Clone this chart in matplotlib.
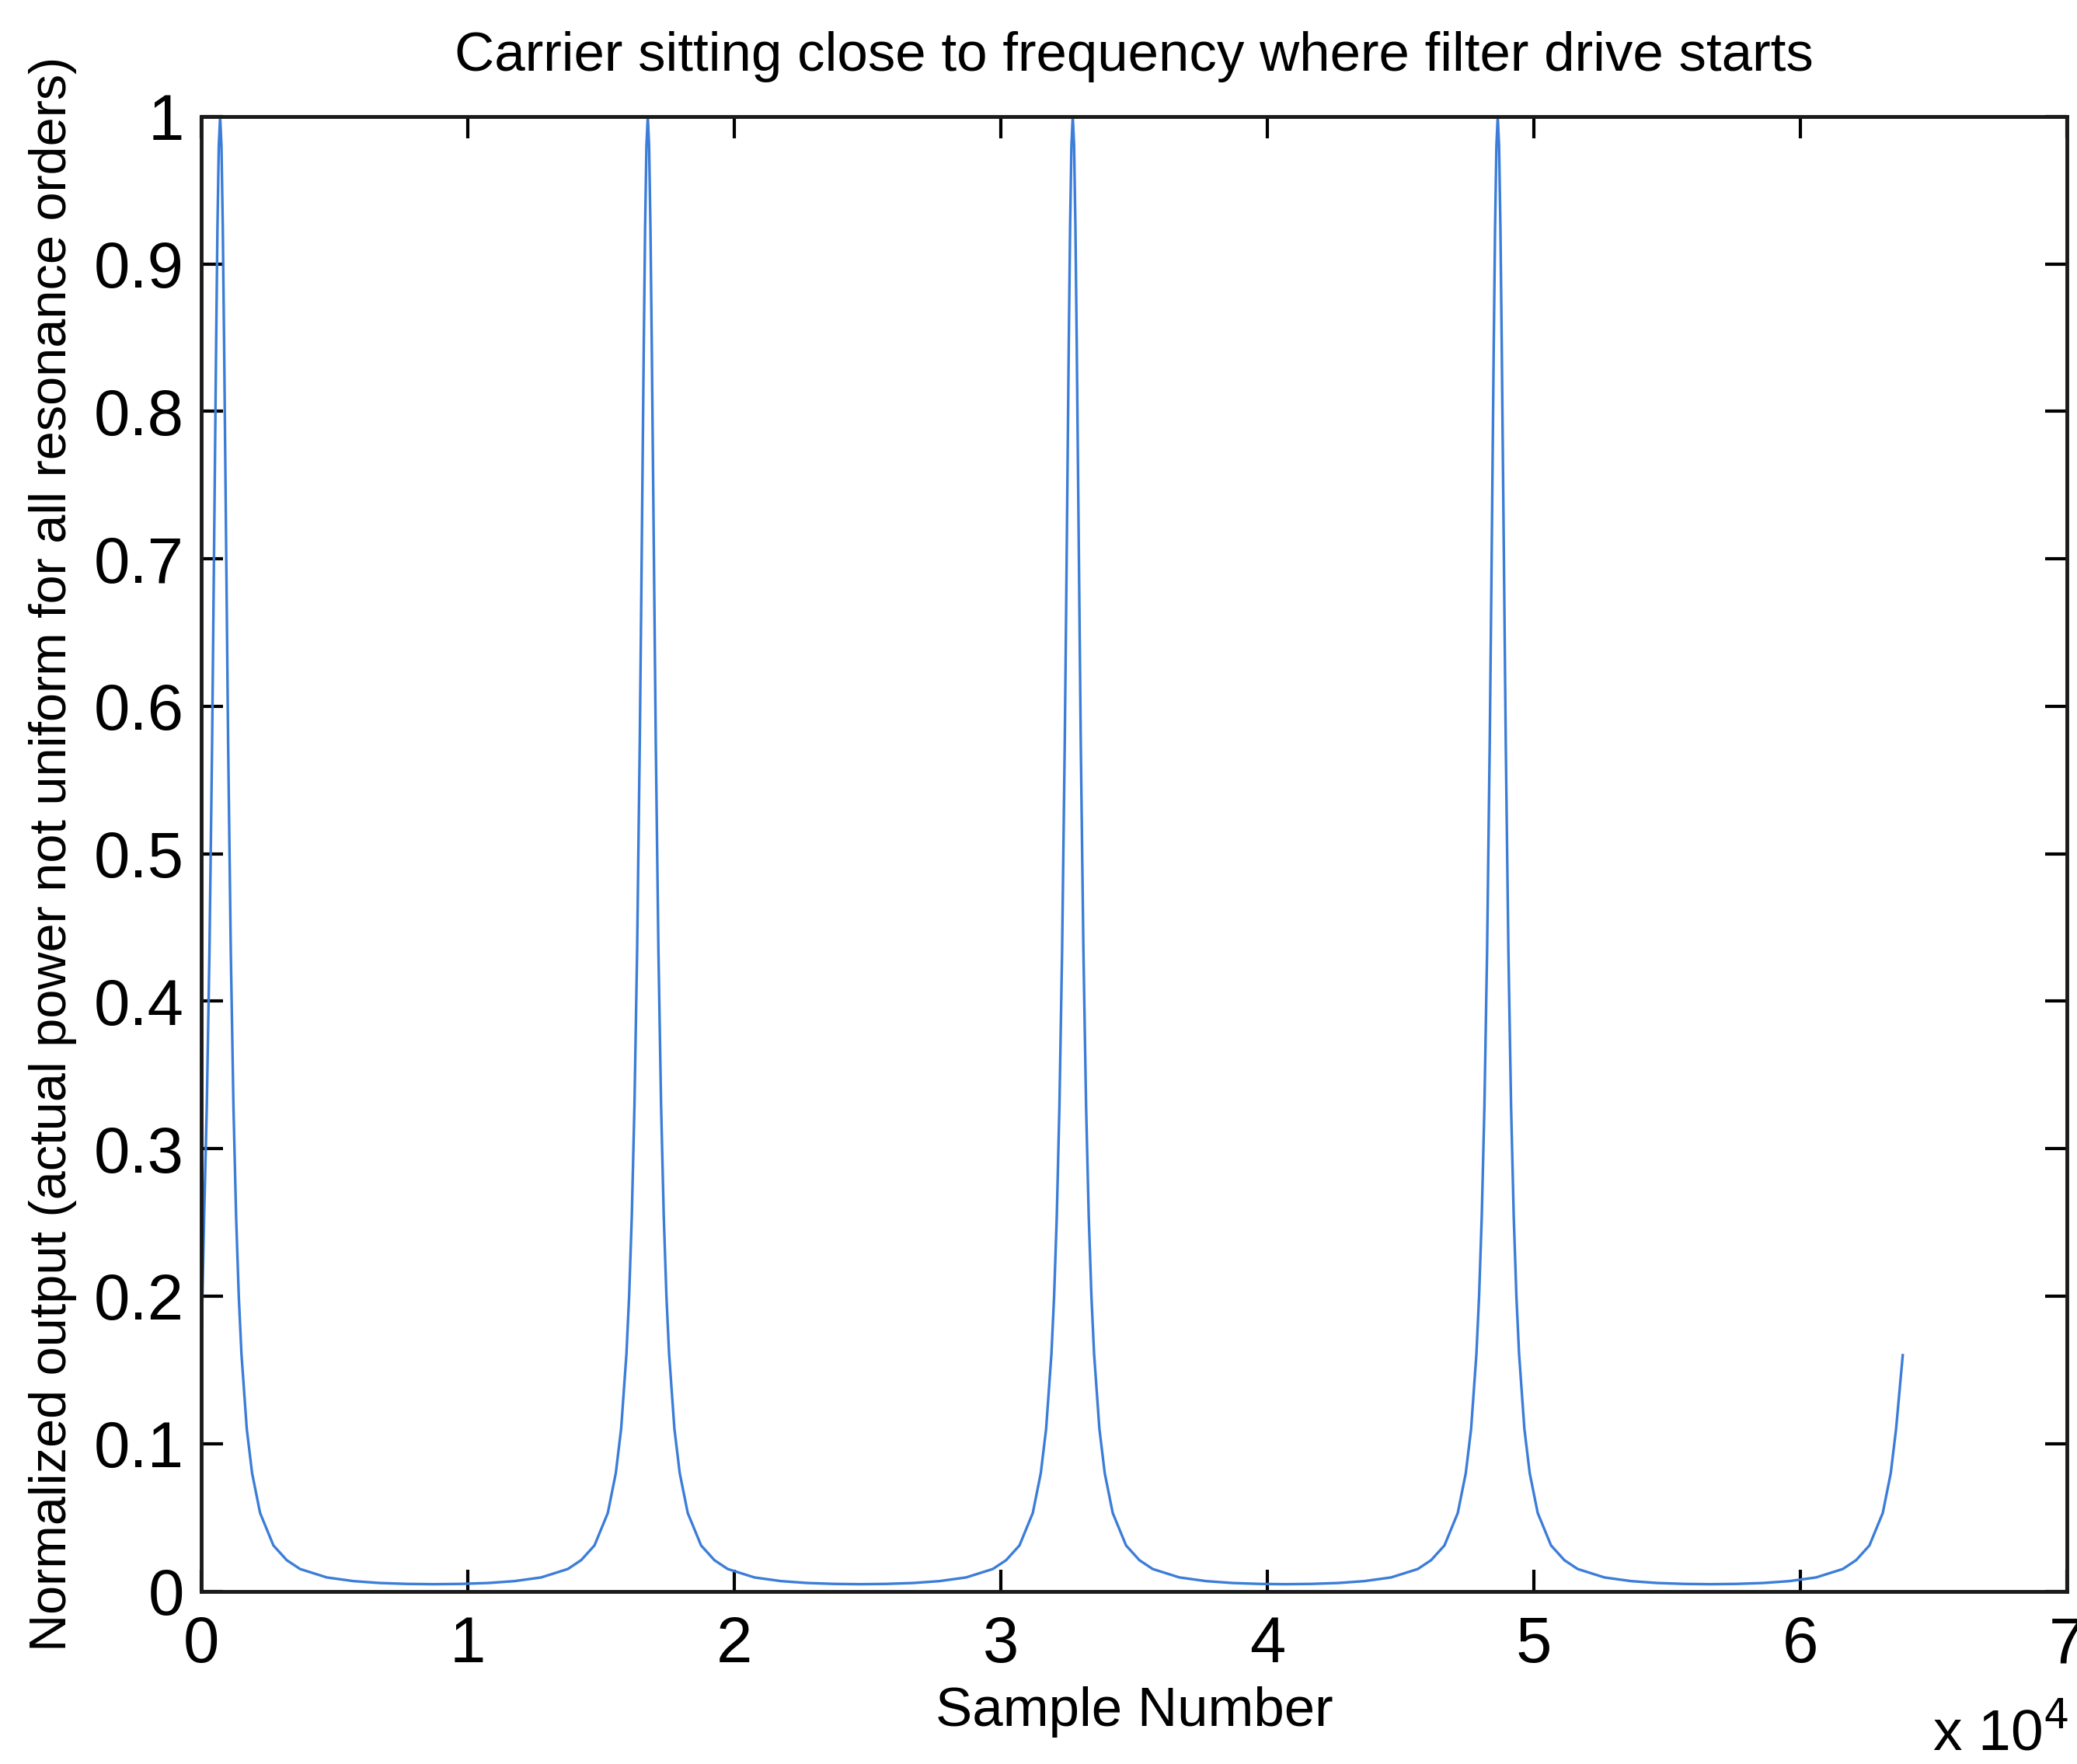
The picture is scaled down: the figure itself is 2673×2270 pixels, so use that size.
import matplotlib
matplotlib.use("Agg")
import matplotlib.pyplot as plt

plt.rcParams['font.family'] = ['Liberation Sans', 'DejaVu Sans']

# values (sample number, normalized output)
peak1_x = [0, 100, 200, 300, 400, 500, 550, 600, 650, 700,
           750, 800, 850, 900, 950, 1000, 1100, 1200, 1300, 1400, 1500,
           1700, 1900, 2200, 2700, 3200, 3700, 4700, 5700, 6700, 7700, 8725]
peak1_y = [0.170, 0.254, 0.329, 0.434, 0.576, 0.754, 0.845, 0.925, 0.98, 1.0,
           0.98, 0.925, 0.845, 0.754, 0.662, 0.576, 0.434, 0.329, 0.254, 0.200, 0.161,
           0.110, 0.080, 0.053, 0.031, 0.021, 0.015, 0.0093, 0.0068, 0.0055, 0.0049, 0.0047]

peak2_x = [9750, 10750, 11750, 12750, 13750, 14250, 14750, 15250, 15550, 15750, 15950,
           16050, 16150, 16250, 16350, 16450, 16500, 16550, 16600, 16650, 16700, 16750,
           16800, 16850, 16900, 16950, 17000, 17050, 17150, 17250, 17350, 17450, 17550,
           17750, 17950, 18250, 18750, 19250, 19750, 20750, 21750, 22750, 23750, 24725]
peak2_y = [0.0049, 0.0055, 0.0068, 0.0093, 0.015, 0.021, 0.031, 0.053, 0.080, 0.110, 0.161,
           0.200, 0.254, 0.329, 0.434, 0.576, 0.662, 0.754, 0.845, 0.925, 0.98, 1.0,
           0.98, 0.925, 0.845, 0.754, 0.662, 0.576, 0.434, 0.329, 0.254, 0.200, 0.161,
           0.110, 0.080, 0.053, 0.031, 0.021, 0.015, 0.0093, 0.0068, 0.0055, 0.0049, 0.0047]

peak3_x = [25700, 26700, 27700, 28700, 29700, 30200, 30700, 31200, 31500, 31700, 31900,
           32000, 32100, 32200, 32300, 32400, 32450, 32500, 32550, 32600, 32650, 32700,
           32750, 32800, 32850, 32900, 32950, 33000, 33100, 33200, 33300, 33400, 33500,
           33700, 33900, 34200, 34700, 35200, 35700, 36700, 37700, 38700, 39700, 40675]
peak3_y = [0.0049, 0.0055, 0.0068, 0.0093, 0.015, 0.021, 0.031, 0.053, 0.080, 0.110, 0.161,
           0.200, 0.254, 0.329, 0.434, 0.576, 0.662, 0.754, 0.845, 0.925, 0.98, 1.0,
           0.98, 0.925, 0.845, 0.754, 0.662, 0.576, 0.434, 0.329, 0.254, 0.200, 0.161,
           0.110, 0.080, 0.053, 0.031, 0.021, 0.015, 0.0093, 0.0068, 0.0055, 0.0049, 0.0047]

peak4_x = [41650, 42650, 43650, 44650, 45650, 46150, 46650, 47150, 47450, 47650, 47850,
           47950, 48050, 48150, 48250, 48350, 48400, 48450, 48500, 48550, 48600, 48650,
           48700, 48750, 48800, 48850, 48900, 48950, 49050, 49150, 49250, 49350, 49450,
           49650, 49850, 50150, 50650, 51150, 51650, 52650, 53650, 54650, 55650, 56625]
peak4_y = [0.0049, 0.0055, 0.0068, 0.0093, 0.015, 0.021, 0.031, 0.053, 0.080, 0.110, 0.161,
           0.200, 0.254, 0.329, 0.434, 0.576, 0.662, 0.754, 0.845, 0.925, 0.98, 1.0,
           0.98, 0.925, 0.845, 0.754, 0.662, 0.576, 0.434, 0.329, 0.254, 0.200, 0.161,
           0.110, 0.080, 0.053, 0.031, 0.021, 0.015, 0.0093, 0.0068, 0.0055, 0.0049, 0.0047]

tail_x = [57600, 58600, 59600, 60600, 61600, 62100, 62600, 63100, 63400, 63600, 63850]
tail_y = [0.0049, 0.0055, 0.0068, 0.0093, 0.015, 0.021, 0.031, 0.053, 0.080, 0.110, 0.160]

x_ticks = [0, 10000, 20000, 30000, 40000, 50000, 60000, 70000]
x_tick_labels = ['0', '1', '2', '3', '4', '5', '6', '7']
y_ticks = [0, 0.1, 0.2, 0.3, 0.4, 0.5, 0.6, 0.7, 0.8, 0.9, 1]
y_tick_labels = ['0', '0.1', '0.2', '0.3', '0.4', '0.5', '0.6', '0.7', '0.8', '0.9', '1']

sample = peak1_x + peak2_x + peak3_x + peak4_x + tail_x
output = peak1_y + peak2_y + peak3_y + peak4_y + tail_y

fig = plt.figure(figsize=(26.73, 22.70), dpi=100)
ax = fig.add_axes([0.097, 0.098, 0.898, 0.836])

ax.plot(sample, output, color='#3b7dd8', linewidth=2.4)

ax.set_xlim(0, 70000)
ax.set_ylim(0, 1)
ax.set_xticks(x_ticks)
ax.set_xticklabels(x_tick_labels)
ax.set_yticks(y_ticks)
ax.set_yticklabels(y_tick_labels)

ax.tick_params(direction='in', length=20, width=3, labelsize=60,
               top=True, right=True)
ax.tick_params(axis='x', pad=22)
ax.tick_params(axis='y', pad=16)
for s in ax.spines.values():
    s.set_linewidth(3.5)
    s.set_color('#1a1a1a')

ax.set_title('Carrier sitting close to frequency where filter drive starts',
             fontsize=51, pad=42)
ax.set_xlabel('Sample Number', fontsize=51, labelpad=10)
ax.set_ylabel('Normalized output (actual power not uniform for all resonance orders)',
              fontsize=48, labelpad=16)
ax.text(0.928, -0.097, 'x 10$^{4}$', transform=ax.transAxes, fontsize=54,
        ha='left', va='center')

fig.savefig('out.png', dpi=100, facecolor='white')
